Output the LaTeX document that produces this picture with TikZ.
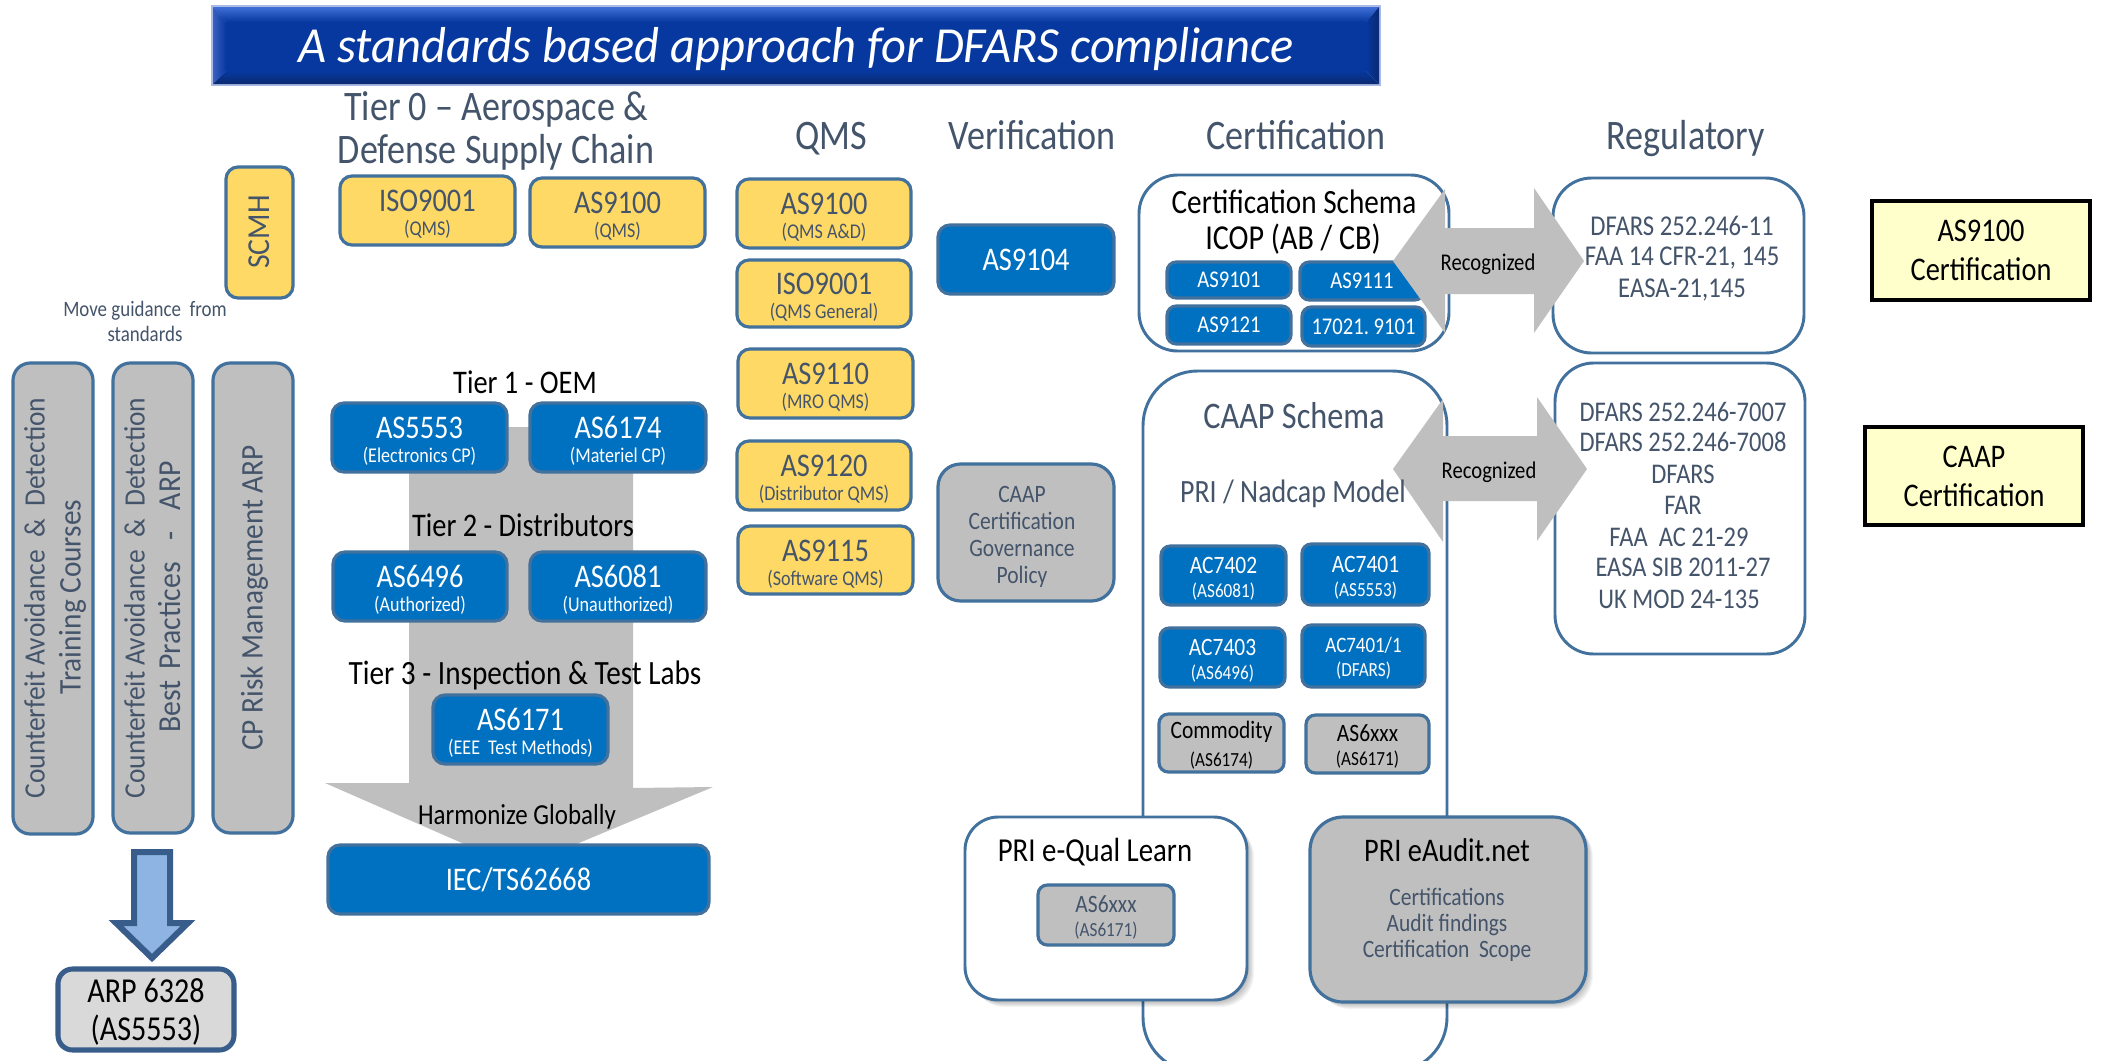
\documentclass[tikz,border=0pt]{standalone}
\usepackage{fontspec}
\setmainfont[FakeStretch=0.86]{Carlito}
\newfontfamily\titlefont[FakeStretch=0.96]{Carlito}
\newfontfamily\sidefont[FakeStretch=0.93]{Carlito}
\usetikzlibrary{calc}
\definecolor{bfill}{HTML}{0070C0}
\definecolor{yfill}{HTML}{FFD966}
\definecolor{gfill}{HTML}{BFBFBF}
\definecolor{edge}{HTML}{41719C}
\definecolor{edgedk}{HTML}{385D8A}
\definecolor{arrfill}{HTML}{8EB4E3}
\definecolor{dk}{HTML}{44546A}
\definecolor{cream}{HTML}{FFFFCC}
\definecolor{face}{HTML}{0638A0}
\definecolor{bevlight}{HTML}{3F6FD6}
\definecolor{bevleft}{HTML}{3A60C0}
\definecolor{bevdark}{HTML}{0B2A70}
\definecolor{bevrim}{HTML}{A9BAE6}
\newcommand{\fpx}[2]{\fontsize{\fpeval{#1*0.75}}{\fpeval{#2*0.75}}\selectfont}
\newcommand{\two}[4]{\fpx{#1}{#1}\rule{0pt}{0.9em}#3\\[6pt]\fpx{#2}{#2}#4}
% box: [style]{name}{x0}{y0}{x1}{y1}{text}
\newcommand{\bx}[7][]{\node[boxst,#1,minimum width={\fpeval{(#5-#3)*0.75}pt},minimum height={\fpeval{(#6-#4)*0.75}pt}] (#2) at ({(#3+#5)/2},{(#4+#6)/2}) {#7};}
% label: [style]{name}{x}{y}{size}{text}
\newcommand{\lb}[6][]{\node[inner sep=0pt,outer sep=0pt,text=dk,align=center,text height={\fpeval{#5*0.75*0.64}pt},text depth=0pt,font=\fpx{#5}{#5},#1] (#2) at (#3,#4) {#6};}
\newcommand{\shadowbox}[5]{\foreach \s in {1,...,7}{\fill[black,opacity=0.045,rounded corners=#5] ({#1+\s},{#2+\s}) rectangle ({#3+\s},{#4+\s});}}
\tikzset{
  boxst/.style={draw=edge,line width=2.4pt,rounded corners=9pt,inner sep=0pt,outer sep=0pt,align=center},
  yb/.style={fill=yfill,text=dk},
  blb/.style={fill=bfill,text=white},
  gb/.style={fill=gfill,text=dk},
  wb/.style={fill=white,text=dk,line width=2.2pt},
  ck/.style={draw=black,line width=2.6pt,rounded corners=0pt,fill=cream,text=black},
}
\begin{document}
\begin{tikzpicture}[x=0.75pt,y=-0.75pt]
\useasboundingbox (0,0) rectangle (2104,1060);
\fill[white] (0,0) rectangle (2104,1060);
% title bar
\fill[bevrim] (211,5) rectangle (1381,86);
\shade[top color=bevlight,bottom color=face] (213,7) -- (1379,7) -- (1366,22) -- (226,22) -- cycle;
\shade[left color=bevleft,right color=face] (213,7) -- (226,22) -- (226,71) -- (213,84) -- cycle;
\shade[left color=face,right color=bevdark] (1379,7) -- (1366,22) -- (1366,71) -- (1379,84) -- cycle;
\shade[top color=face,bottom color=bevdark] (213,84) -- (1379,84) -- (1366,71) -- (226,71) -- cycle;
\fill[face] (226,22) rectangle (1366,71);
\node[inner sep=0pt,text=white,font=\titlefont\itshape\fpx{50.5}{50.5}] (title) at (796,49) {A standards based approach for DFARS compliance};
% column heads
\lb{h0a}{496}{107}{42}{Tier 0 -- Aerospace \&}
\lb{h0b}{496}{150}{42}{Defense Supply Chain}
\lb{h1}{831}{136}{42}{QMS}
\lb{h2}{1032}{136}{42}{Verification}
\lb{h3}{1296}{136}{42}{Certification}
\lb{h4}{1686}{136}{42}{Regulatory}
% left column
\bx[yb]{scmh}{226}{167}{293}{298}{}
\tikzset{rt/.style={rotate=90,font=\sidefont\fpx{29.5}{29.5}}}
\lb[rt,font=\sidefont\fpx{32}{32}]{scmhl}{259}{232}{32}{SCMH}
\lb{mv1}{145}{309}{22}{Move guidance\ \ from}
\lb{mv2}{145}{334}{22}{standards}
\bx[gb,rounded corners=13pt]{c1}{13}{363}{93}{834}{}
\bx[gb,rounded corners=13pt]{c2}{113}{363}{193}{833}{}
\bx[gb,rounded corners=13pt]{c3}{213}{363}{293}{833}{}
\lb[rt]{c1a}{35}{598}{30}{Counterfeit Avoidance\ \ \&\ \ Detection}
\lb[rt,font=\sidefont\fpx{31.5}{31.5}]{c1b}{71}{597}{30}{Training Courses}
\lb[rt]{c2a}{135}{598}{30}{Counterfeit Avoidance\ \ \&\ \ Detection}
\lb[rt,font=\sidefont\fpx{32}{32}]{c2b}{171}{597}{30}{Best\hspace{3pt} Practices\hspace{11pt} -\hspace{11pt} ARP}
\lb[rt,font=\sidefont\fpx{31.5}{31.5}]{c3a}{253}{598}{30}{CP Risk Management ARP}
% blue down arrow
\draw[draw=edgedk,line width=4.5pt,fill=arrfill,miter limit=10] (134,852) -- (170,852) -- (170,923) -- (188,923) -- (152,958) -- (116,923) -- (134,923) -- cycle;
\bx[fill=black!15,text=black,draw=edgedk,line width=3.8pt,rounded corners=11pt,font=\fpx{35}{38}]{arp}{58}{969}{234}{1050}{\rule{0pt}{0.85em}ARP 6328\\(AS5553)}
% tier 0
\bx[yb]{t0a}{340}{176}{515}{245}{\two{33}{21}{ISO9001}{(QMS)}}
\bx[yb]{t0b}{530}{178}{705}{247}{\two{33}{21}{AS9100}{(QMS)}}
% big gray arrow
\fill[gfill] (409,427) -- (633,427) -- (633,788) -- (713,787) -- (519,868) -- (325,783) -- (409,783) -- cycle;
\lb[text=black]{t1}{525}{383}{33}{Tier 1 - OEM}
\bx[blb]{as5553}{332}{403}{507}{472}{\two{33}{21}{AS5553}{(Electronics CP)}}
\bx[blb]{as6174}{530}{403}{706}{472}{\two{33}{21}{AS6174}{(Materiel CP)}}
\lb[text=black]{t2}{523}{526}{33}{Tier 2 - Distributors}
\bx[blb]{as6496}{333}{552}{507}{621}{\two{33}{21}{AS6496}{(Authorized)}}
\bx[blb]{as6081}{530}{552}{706}{621}{\two{33}{21}{AS6081}{(Unauthorized)}}
\lb[text=black]{t3}{525}{674}{34}{Tier 3 - Inspection \& Test Labs}
\bx[blb]{as6171}{433}{695}{608}{764}{\two{33}{21}{AS6171}{(EEE\ \ Test Methods)}}
\lb[text=black]{hg}{517}{815}{29}{Harmonize Globally}
\bx[blb]{iec}{328}{845}{709}{914}{\fpx{33}{33}IEC/TS62668}
% QMS
\bx[yb]{q1}{737}{179}{911}{248}{\two{33}{21}{AS9100}{(QMS A\&D)}}
\bx[yb]{q2}{737}{260}{911}{327}{\two{33}{21}{ISO9001}{(QMS General)}}
\bx[yb]{q3}{738}{349}{913}{418}{\two{33}{21}{AS9110}{(MRO QMS)}}
\bx[yb]{q4}{737}{441}{911}{510}{\two{33}{21}{AS9120}{(Distributor QMS)}}
\bx[yb]{q5}{738}{526}{913}{594}{\two{33}{21}{AS9115}{(Software QMS)}}
% verification
\bx[blb]{v1}{938}{225}{1114}{294}{\fpx{33}{33}AS9104}
\bx[gb,rounded corners=17pt]{v2}{938}{464}{1114}{601}{}
\node[inner sep=0pt,text=dk,align=center,font=\fpx{25}{27}] (v2t) at (1022,537) {CAAP\\Certification\\Governance\\Policy};
% certification
\bx[wb,rounded corners=29pt]{cs}{1139}{175}{1449}{351}{}
\lb[text=black]{cs1}{1294}{203}{34}{Certification Schema}
\lb[text=black]{cs2}{1293}{238}{35}{ICOP (AB / CB)}
\tikzset{sm/.style={blb,rounded corners=7pt}}
\bx[sm]{a1}{1167}{262}{1291}{298}{\fpx{24}{24}AS9101}
\bx[sm]{a2}{1300}{262}{1424}{300}{\fpx{24}{24}AS9111}
\bx[sm]{a3}{1167}{306}{1291}{344}{\fpx{24}{24}AS9121}
\bx[sm]{a4}{1302}{307}{1425}{346}{\fpx{24}{24}17021.\ 9101}
% regulatory boxes
\bx[wb,rounded corners=29pt]{r1}{1553}{178}{1804}{353}{}
\bx[wb,rounded corners=29pt]{r2}{1555}{363}{1805}{654}{}
% CAAP schema box, running off the bottom
\begin{scope}
\clip (0,0) rectangle (2104,1060);
\bx[wb,rounded corners=41pt]{caap}{1143}{371}{1447}{1072}{}
\end{scope}
% recognised arrows
\fill[gfill] (1393,261) -- (1445,189) -- (1445,228) -- (1534,228) -- (1534,188) -- (1584,261) -- (1534,333) -- (1534,294) -- (1445,294) -- (1445,333) -- cycle;
\fill[gfill] (1393,469) -- (1443,399) -- (1443,436) -- (1537,436) -- (1537,397) -- (1587,469) -- (1537,541) -- (1537,501) -- (1443,501) -- (1443,542) -- cycle;
\lb[text=black]{rc1}{1488}{263}{24}{Recognized}
\lb[text=black]{rc2}{1489}{471}{24}{Recognized}
% regulatory text
\lb{r1a}{1682}{226}{28.7}{DFARS 252.246-11}
\lb{r1b}{1682}{256}{28.7}{FAA 14 CFR-21, 145}
\lb{r1c}{1682}{288}{28.7}{EASA-21,145}
\lb{r2a}{1683}{412}{28.5}{DFARS 252.246-7007}
\lb{r2b}{1683}{442}{28.5}{DFARS 252.246-7008}
\lb{r2c}{1683}{474}{28.5}{DFARS}
\lb{r2d}{1683}{505}{28.5}{FAR}
\lb{r2e}{1679}{537}{28.5}{FAA\ \ AC 21-29}
\lb{r2f}{1683}{567}{28.5}{EASA SIB 2011-27}
\lb{r2g}{1679}{599}{28.5}{UK MOD 24-135}
% CAAP contents
\lb{cp1}{1294}{416}{37.5}{CAAP Schema}
\lb{cp2}{1293}{492}{32.5}{PRI / Nadcap Model}
\tikzset{sn/.style={rounded corners=7pt}}
\bx[sn,blb]{b1}{1161}{546}{1286}{605}{\two{25}{20}{AC7402}{(AS6081)}}
\bx[sn,blb]{b2}{1302}{544}{1429}{605}{\two{25}{20}{AC7401}{(AS5553)}}
\bx[sn,blb]{b3}{1160}{628}{1285}{687}{\two{25}{20}{AC7403}{(AS6496)}}
\bx[sn,blb]{b4}{1302}{625}{1425}{687}{\two{22}{20}{AC7401/1}{(DFARS)}}
\bx[sn,gb,text=black]{b5}{1159}{714}{1284}{772}{\two{25}{20}{Commodity}{(AS6174)}}
\bx[sn,gb,text=black]{b6}{1306}{715}{1429}{773}{\two{25}{20}{AS6xxx}{(AS6171)}}
% PRI boxes
\shadowbox{965}{817}{1247}{1000}{25pt}
\bx[wb,rounded corners=25pt]{eq}{965}{817}{1247}{1000}{}
\lb[text=black]{eq1}{1095}{851}{33.5}{PRI e-Qual Learn}
\bx[sn,gb]{eq2}{1038}{885}{1174}{945}{\two{25}{20}{AS6xxx}{(AS6171)}}
\shadowbox{1310}{817}{1586}{1002}{25pt}
\bx[gb,rounded corners=25pt]{ea}{1310}{817}{1586}{1002}{}
\lb[text=black]{ea1}{1447}{851}{33}{PRI eAudit.net}
\lb{ea2}{1447}{897}{25}{Certifications}
\lb{ea3}{1447}{923}{25}{Audit findings}
\lb{ea4}{1447}{949}{25}{Certification\ \ Scope}
% right boxes
\bx[ck,font=\fpx{33}{39}]{k1}{1872}{201}{2090}{300}{AS9100\\Certification}
\bx[ck,font=\fpx{33}{39}]{k2}{1865}{427}{2083}{525}{CAAP\\Certification}
\end{tikzpicture}
\end{document}
